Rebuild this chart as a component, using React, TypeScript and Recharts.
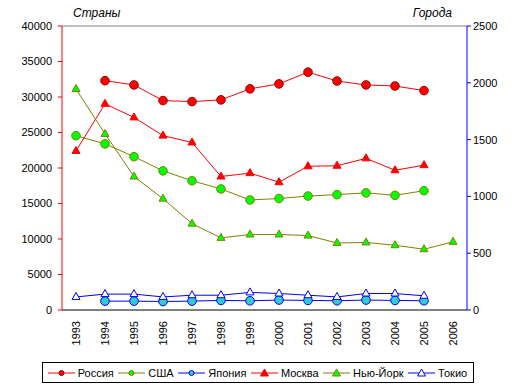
import React from 'react';
import { LineChart, Line, XAxis, YAxis, Legend, ReferenceLine } from 'recharts';

const years = ['1993', '1994', '1995', '1996', '1997', '1998', '1999', '2000', '2001', '2002', '2003', '2004', '2005', '2006'];

// countries (left axis)
const russia = [null, 32300, 31700, 29500, 29350, 29600, 31150, 31850, 33500, 32250, 31700, 31550, 30900, null];
const usa = [24550, 23400, 21600, 19600, 18200, 17050, 15500, 15700, 16050, 16250, 16500, 16150, 16800, null];
const japan = [null, 1250, 1250, 1200, 1250, 1350, 1300, 1400, 1350, 1300, 1400, 1350, 1300, null];

// cities (right axis)
const moscow = [1400, 1815, 1695, 1535, 1475, 1175, 1205, 1125, 1265, 1270, 1335, 1230, 1275, null];
const newYork = [1945, 1550, 1175, 980, 760, 635, 665, 665, 655, 590, 595, 570, 535, 600];
const tokyo = [115, 140, 140, 115, 130, 130, 155, 145, 130, 115, 145, 145, 125, null];

const leftTicks = [0, 5000, 10000, 15000, 20000, 25000, 30000, 35000, 40000];
const rightTicks = [0, 500, 1000, 1500, 2000, 2500];

const data = years.map((y, i) => ({
    year: y,
    russia: russia[i],
    usa: usa[i],
    japan: japan[i],
    moscow: moscow[i],
    newYork: newYork[i],
    tokyo: tokyo[i],
}));

const font = '"Liberation Sans", Arial, sans-serif';

const series = [
    { key: 'russia', name: 'Россия', axis: 'left', line: '#ff0000', fill: '#ff0000', edge: '#990000', shape: 'circle' },
    { key: 'usa', name: 'США', axis: 'left', line: '#808000', fill: '#00ff00', edge: '#808000', shape: 'circle' },
    { key: 'japan', name: 'Япония', axis: 'left', line: '#0000ff', fill: '#33cccc', edge: '#0000ff', shape: 'circle' },
    { key: 'moscow', name: 'Москва', axis: 'right', line: '#ff0000', fill: '#ff0000', edge: '#ff0000', shape: 'tri' },
    { key: 'newYork', name: 'Нью-Йорк', axis: 'right', line: '#808000', fill: '#00ff00', edge: '#808000', shape: 'tri' },
    { key: 'tokyo', name: 'Токио', axis: 'right', line: '#0000ff', fill: '#ffffff', edge: '#0000ff', shape: 'tri' },
];

const makeDot = (s: any) => (props: any) => {
    const { cx, cy, index, value } = props;
    if (value == null || cx == null || cy == null) return <g key={index} />;
    if (s.shape === 'circle') {
        return <circle key={index} cx={cx} cy={cy} r={4.3} fill={s.fill} stroke={s.edge} strokeWidth={1} />;
    }
    return (
        <polygon
            key={index}
            points={`${cx},${cy - 4.5} ${cx - 4},${cy + 2.5} ${cx + 4},${cy + 2.5}`}
            fill={s.fill}
            stroke={s.edge}
            strokeWidth={1}
        />
    );
};

const YearTick = (props: any) => {
    const { x, y, payload } = props;
    return (
        <text
            x={x + 4}
            y={y + 3}
            transform={`rotate(-90, ${x + 4}, ${y + 3})`}
            textAnchor="end"
            fontSize={11}
            fontFamily={font}
            fill="#000"
        >
            {payload.value}
        </text>
    );
};

const LegendBox = () => (
    <div
        style={{
            width: 432,
            height: 21,
            boxSizing: 'border-box',
            border: '1px solid #000',
            margin: '0 auto',
            display: 'flex',
            alignItems: 'center',
            justifyContent: 'space-around',
            padding: '0 3px',
            fontFamily: font,
            fontSize: 11,
            background: '#fff',
        }}
    >
        {series.map((s) => (
            <span key={s.key} style={{ display: 'flex', alignItems: 'center' }}>
                <svg width={27} height={10} style={{ marginRight: 3 }}>
                    <line x1={0} y1={5} x2={27} y2={5} stroke={s.line} />
                    {s.shape === 'circle' ? (
                        <circle cx={13.5} cy={5} r={2.5} fill={s.fill} stroke={s.edge} />
                    ) : (
                        <polygon points="13.5,1 9.5,8 17.5,8" fill={s.fill} stroke={s.edge} />
                    )}
                </svg>
                {s.name}
            </span>
        ))}
    </div>
);

export default function App() {
    return (
        <div style={{ position: 'absolute', left: 0, top: 0, width: 515, height: 391, background: '#fff' }}>
            <span style={{ position: 'absolute', left: 73, top: 6, fontFamily: font, fontSize: 12, fontStyle: 'italic' }}>
                Страны
            </span>
            <span style={{ position: 'absolute', right: 63, top: 6, fontFamily: font, fontSize: 12, fontStyle: 'italic' }}>
                Города
            </span>
            <LineChart width={515} height={391} data={data} margin={{ top: 26, right: 0, left: 0, bottom: 8 }}>
                <XAxis
                    dataKey="year"
                    interval={0}
                    padding={{ left: 14, right: 14 }}
                    axisLine={{ stroke: '#000' }}
                    tickLine={false}
                    tick={<YearTick />}
                    height={52}
                />
                <YAxis
                    yAxisId="left"
                    orientation="left"
                    width={62}
                    domain={[0, 40000]}
                    ticks={leftTicks}
                    interval={0}
                    axisLine={{ stroke: '#ff0000' }}
                    tickLine={{ stroke: '#ff0000' }}
                    tickSize={4}
                    tickMargin={6}
                    tick={{ fill: '#000', fontSize: 11, fontFamily: font }}
                />
                <YAxis
                    yAxisId="right"
                    orientation="right"
                    width={48}
                    domain={[0, 2500]}
                    ticks={rightTicks}
                    interval={0}
                    axisLine={{ stroke: '#0000ff' }}
                    tickLine={{ stroke: '#0000ff' }}
                    tickSize={4}
                    tickMargin={2}
                    tick={{ fill: '#000', fontSize: 11, fontFamily: font }}
                />
                <ReferenceLine yAxisId="left" y={40000} stroke="#808080" />
                <Legend verticalAlign="bottom" content={<LegendBox />} />
                {series.map((s) => (
                    <Line
                        key={s.key}
                        yAxisId={s.axis}
                        dataKey={s.key}
                        name={s.name}
                        type="linear"
                        stroke={s.line}
                        strokeWidth={1}
                        dot={makeDot(s)}
                        activeDot={false}
                        isAnimationActive={false}
                    />
                ))}
            </LineChart>
        </div>
    );
}
